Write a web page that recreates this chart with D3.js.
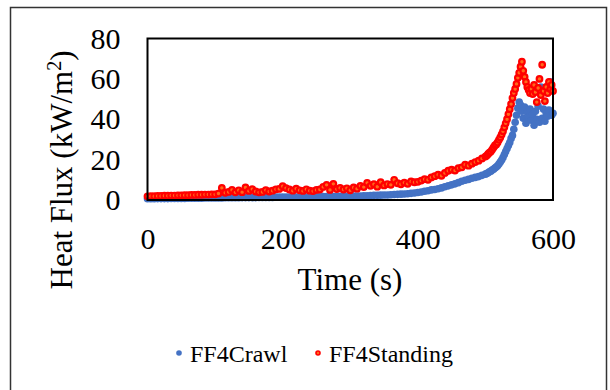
<!DOCTYPE html>
<html>
<head>
<meta charset="utf-8">
<script src="https://cdn.jsdelivr.net/npm/d3@7"></script>
<style>
  body { margin: 0; background: #fff; }
</style>
</head>
<body>
<div id="chart"></div>
<script>
// sample times (s)
const times = [
  0, 5, 10, 15, 20, 25, 30, 35, 40, 45, 50, 55, 60, 65, 70, 75, 80, 85, 90, 95, 100,
  105, 110, 115, 120, 125, 130, 135, 140, 145, 150, 155, 160, 165, 170, 175, 180, 185, 190, 195, 200,
  205, 210, 215, 220, 225, 230, 235, 240, 245, 250, 255, 260, 265, 270, 275, 280, 285, 290, 295, 300,
  305, 310, 315, 320, 325, 330, 335, 340, 345, 350, 355, 360, 365, 370, 375, 380, 385, 390, 395, 400,
  405, 410, 415, 420, 425, 430, 435, 440, 445, 450, 455, 460, 465, 470, 475, 480, 485, 490, 495, 500,
  502, 504, 506, 508, 510, 512, 514, 516, 518, 520, 522, 524, 526, 528, 530, 532, 534, 536, 538, 540,
  542, 544, 546, 548, 550, 552, 554, 556, 558, 560, 562, 564, 566, 568, 570, 572, 574, 576, 578, 580,
  582, 584, 586, 588, 590, 592, 594, 596, 598, 600
];

// FF4Crawl heat flux (kW/m2)
const crawl = [
  0.6, 0.6, 0.6, 0.7, 0.7, 0.7, 0.7, 0.8, 0.8, 0.8, 0.8, 0.8, 0.9, 0.9, 0.9, 0.9, 0.9, 1.0, 1.0, 1.0, 1.0,
  1.0, 1.0, 1.1, 1.1, 1.1, 1.1, 1.1, 1.2, 1.2, 1.2, 1.2, 1.2, 1.3, 1.3, 1.3, 1.3, 1.3, 1.4, 1.4, 1.4,
  1.4, 1.4, 1.5, 1.5, 1.5, 1.5, 1.5, 1.6, 1.6, 1.6, 1.6, 1.7, 1.7, 1.7, 1.7, 1.8, 1.8, 1.8, 1.8, 1.9,
  1.9, 2.0, 2.0, 2.1, 2.1, 2.2, 2.3, 2.3, 2.4, 2.5, 2.5, 2.6, 2.7, 2.8, 2.9, 3.0, 3.1, 3.3, 3.5, 3.7,
  4.0, 4.3, 4.6, 5.0, 5.2, 5.6, 6.0, 6.6, 7.0, 7.5, 8.0, 8.6, 9.3, 9.8, 10.2, 10.8, 11.2, 11.6, 12.2, 12.8,
  13.1, 13.5, 14.0, 14.3, 14.8, 15.2, 15.8, 16.3, 17.0, 17.8, 18.8, 19.8, 21.0, 22.5, 24.0, 25.5, 27.0, 28.5, 30.5, 32.0,
  35.0, 38.5, 42.0, 45.5, 48.5, 47.0, 44.0, 40.5, 46.0, 38.0, 43.5, 41.0, 45.0, 39.5, 42.5, 37.0, 44.0, 40.0, 46.5, 38.5,
  56.0, 40.5, 45.0, 39.0, 43.0, 41.5, 44.5, 58.5, 42.0, 43.0
];

// FF4Standing heat flux (kW/m2)
const standing = [
  1.8, 1.9, 1.9, 2.0, 2.0, 2.1, 2.1, 2.2, 2.2, 2.3, 2.3, 2.4, 2.4, 2.5, 2.5, 2.6, 2.6, 2.7, 2.7, 2.8, 2.8,
  3.2, 6.0, 3.6, 4.0, 5.0, 3.8, 4.8, 3.9, 6.2, 4.5, 5.4, 4.2, 3.8, 4.0, 4.9, 4.2, 4.6, 5.3, 5.5, 6.8,
  5.9, 5.2, 4.6, 5.6, 4.8, 4.5, 5.3, 4.6, 4.4, 5.0, 5.2, 6.5, 7.5, 5.0, 8.0, 5.4, 6.0, 5.2, 5.8, 4.8,
  6.2, 5.6, 7.0, 6.4, 8.5, 7.0, 7.8, 6.6, 8.8, 7.2, 7.9, 7.5, 10.0, 8.3, 7.8, 8.6, 8.0, 9.2, 8.8, 9.0,
  9.6, 10.3, 10.0, 11.2, 11.8, 12.5, 12.0, 13.4, 14.5, 15.0, 14.6, 15.8, 16.2, 17.5, 17.0, 18.0, 18.8, 19.5, 20.6, 21.5,
  22.0, 22.8, 23.5, 24.0, 25.0, 26.0, 27.0, 27.5, 28.5, 29.8, 31.0, 32.5, 34.0, 36.0, 38.0, 40.0, 42.5, 45.0, 47.5, 50.5,
  53.0, 55.0, 57.5, 60.5, 63.0, 66.0, 68.5, 64.0, 61.0, 58.5, 56.0, 54.5, 53.0, 55.0, 52.5, 57.0, 53.5, 48.5, 55.5, 60.0,
  52.0, 67.0, 54.0, 49.0, 56.0, 53.0, 58.5, 55.0, 57.0, 54.0
];

const seriesNames = ["FF4Crawl", "FF4Standing"];
const seriesColors = ["#4472C4", "#FF0000"];
const xTicks = [0, 200, 400, 600];
const yTicks = [0, 20, 40, 60, 80];

const W = 610, H = 390;
const plot = { left: 147.5, right: 553, top: 38.5, bottom: 200 };
const serif = "'Liberation Serif', 'Times New Roman', serif";

const svg = d3.select("#chart").append("svg")
  .attr("width", W)
  .attr("height", H);

// outer chart border
svg.append("rect")
  .attr("x", 10.5).attr("y", 7.5)
  .attr("width", 596).attr("height", 395)
  .attr("fill", "#fff")
  .attr("stroke", "#333")
  .attr("stroke-width", 1.5);

const x = d3.scaleLinear().domain([0, 600]).range([plot.left, plot.right]);
const y = d3.scaleLinear().domain([0, 80]).range([plot.bottom, plot.top]);

// axes, labels only
const xAxis = svg.append("g")
  .attr("transform", `translate(0,${plot.bottom})`)
  .call(d3.axisBottom(x).tickValues(xTicks).tickSize(0).tickPadding(28));
xAxis.select(".domain").remove();
xAxis.attr("font-family", null).attr("font-size", null);
xAxis.selectAll("text")
  .style("font-family", serif)
  .style("font-size", "30px")
  .attr("fill", "#000");

const yAxis = svg.append("g")
  .attr("transform", `translate(${plot.left},0)`)
  .call(d3.axisLeft(y).tickValues(yTicks).tickSize(0).tickPadding(27));
yAxis.select(".domain").remove();
yAxis.attr("font-family", null).attr("font-size", null);
yAxis.selectAll("text")
  .style("font-family", serif)
  .style("font-size", "30px")
  .attr("fill", "#000");

// axis titles
svg.append("text")
  .attr("x", 350).attr("y", 290)
  .attr("text-anchor", "middle")
  .style("font-family", serif)
  .style("font-size", "31px")
  .text("Time (s)");

const yTitle = svg.append("text")
  .attr("transform", "translate(72,170) rotate(-90)")
  .attr("text-anchor", "middle")
  .style("font-family", serif)
  .style("font-size", "31px");
yTitle.append("tspan").text("Heat Flux (kW/m");
yTitle.append("tspan").attr("dy", -11).style("font-size", "20px").text("2");
yTitle.append("tspan").attr("dy", 11).text(")");

// points
const pts = svg.append("g");

pts.selectAll("circle.crawl")
  .data(times.map((t, i) => [t, crawl[i]]))
  .enter().append("circle")
  .attr("class", "crawl")
  .attr("cx", d => x(d[0]))
  .attr("cy", d => y(d[1]))
  .attr("r", 3.8)
  .attr("fill", seriesColors[0]);

pts.selectAll("circle.standing")
  .data(times.map((t, i) => [t, standing[i]]))
  .enter().append("circle")
  .attr("class", "standing")
  .attr("cx", d => x(d[0]))
  .attr("cy", d => y(d[1]))
  .attr("r", 2.8)
  .attr("fill", "#ff6a1a")
  .attr("stroke", seriesColors[1])
  .attr("stroke-width", 2.2);

// plot area border
svg.append("rect")
  .attr("x", plot.left).attr("y", plot.top)
  .attr("width", plot.right - plot.left)
  .attr("height", plot.bottom - plot.top)
  .attr("fill", "none")
  .attr("stroke", "#000")
  .attr("stroke-width", 2);

// legend
const legend = svg.append("g").attr("transform", "translate(179,353)");
const lx = [0, 139];
seriesNames.forEach((name, i) => {
  const g = legend.append("g").attr("transform", `translate(${lx[i]},0)`);
  if (i === 0) {
    g.append("circle").attr("r", 2.8).attr("fill", seriesColors[0]);
  } else {
    g.append("circle").attr("r", 2).attr("fill", "#ff6a1a")
      .attr("stroke", seriesColors[1]).attr("stroke-width", 1.6);
  }
  g.append("text")
    .attr("x", 11).attr("y", 9)
    .style("font-family", serif)
    .style("font-size", "24px")
    .text(name);
});
</script>
</body>
</html>
